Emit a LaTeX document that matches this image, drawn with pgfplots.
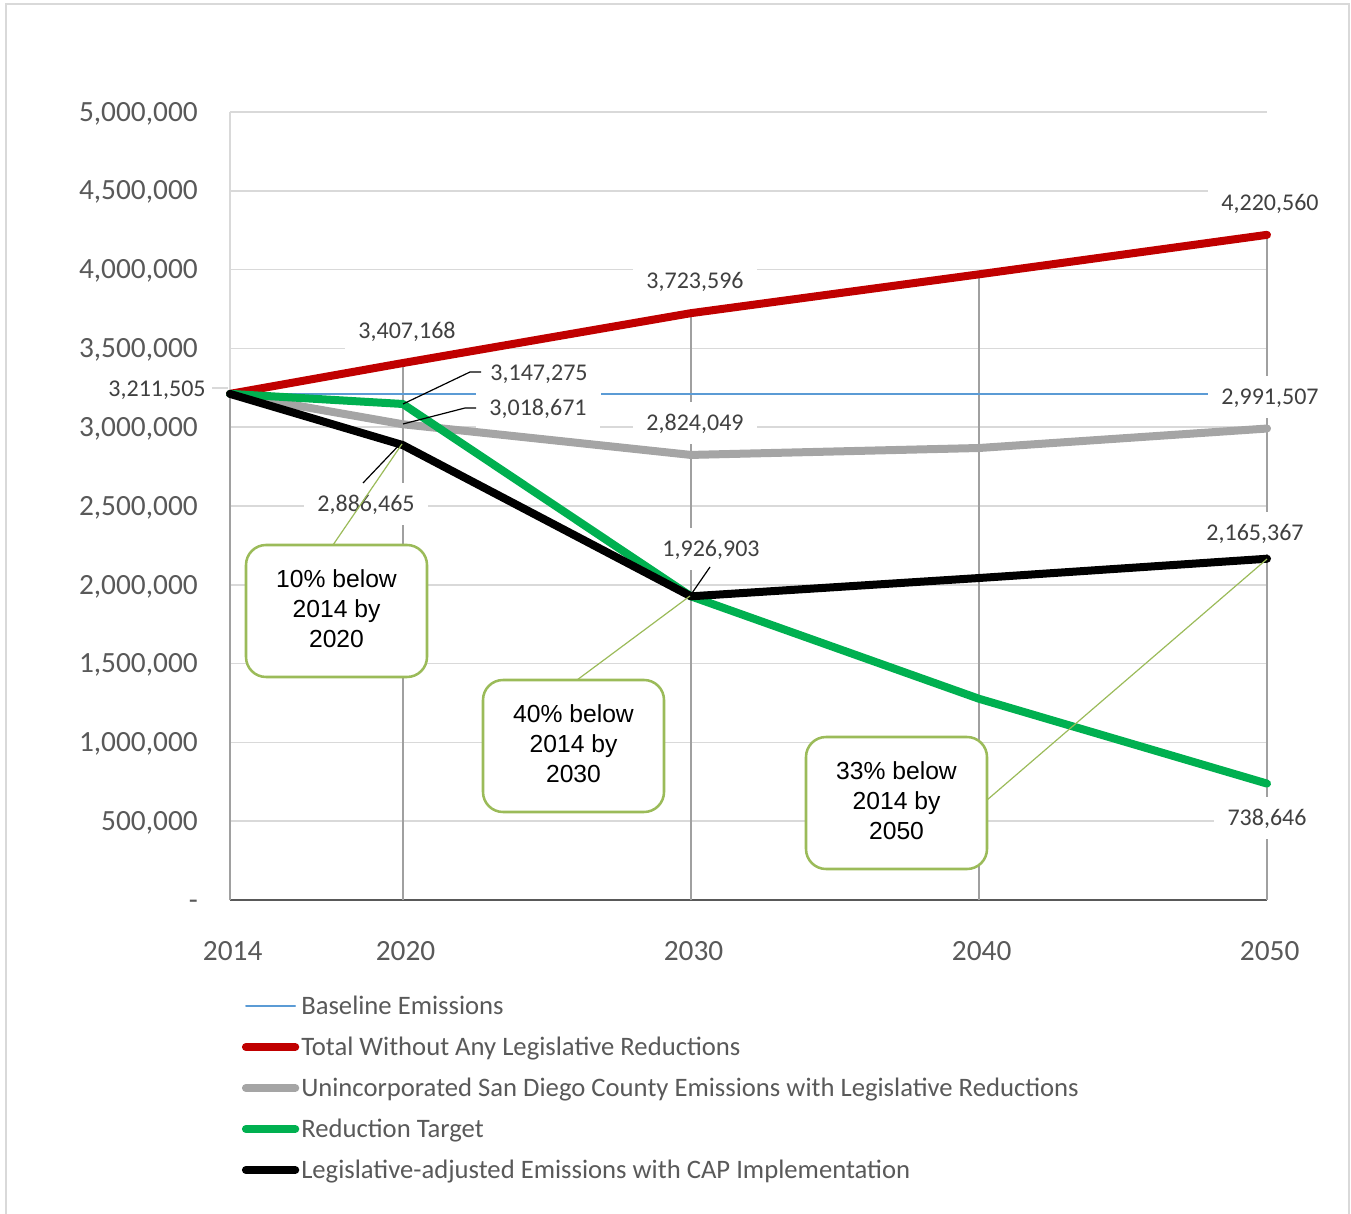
\documentclass[border=0pt]{standalone}
\usepackage{pgfplots}
\pgfplotsset{compat=1.18}
\usepackage{fontspec}
\setmainfont{Carlito}
\newfontfamily\arialfont{Liberation Sans}
\definecolor{cRed}{HTML}{C00000}
\definecolor{cGray}{HTML}{A5A5A5}
\definecolor{cGreen}{HTML}{00B050}
\definecolor{cBlue}{HTML}{5B9BD5}
\definecolor{cBox}{HTML}{9BBB59}
\definecolor{cGrid}{HTML}{D9D9D9}
\definecolor{cDrop}{HTML}{A0A0A0}
\definecolor{cTick}{HTML}{595959}
\definecolor{cLab}{HTML}{404040}
\tikzset{
  dl/.style={fill=white, inner xsep=10pt, inner ysep=10pt, text height=11.5pt, text depth=0pt,
    font=\fontsize{18}{20}\selectfont, text=cLab},
  bx/.style={draw=cBox, line width=1.9pt, rounded corners=15pt, fill=white,
    minimum width=135.75pt, minimum height=99pt, inner sep=0pt},
  bt/.style={align=center, inner sep=0pt, font=\arialfont\fontsize{18.5}{22.5}\selectfont, text=black},
  co/.style={cBox, line width=0.9pt},
  ld/.style={black, line width=0.9pt}
}
\begin{document}
\begin{tikzpicture}
\path[use as bounding box] (-172.5pt,-234.75pt) rectangle (840.75pt,675pt);
\begin{axis}[
  scale only axis, width=777.75pt, height=591pt,
  clip=false,
  xmin=2014, xmax=2050, ymin=0, ymax=5000000,
  xtick={2014,2020,2030,2040,2050},
  xticklabels={2014,2020,2030,2040,2050},
  ytick={0,500000,1000000,1500000,2000000,2500000,3000000,3500000,4000000,4500000,5000000},
  yticklabels={{-\hspace{21.5pt}},{500,000},{1,000,000},{1,500,000},{2,000,000},{2,500,000},{3,000,000},{3,500,000},{4,000,000},{4,500,000},{5,000,000}},
  scaled y ticks=false,
  /pgf/number format/assume math mode=true,
  major tick length=0pt,
  axis x line*=bottom, axis y line*=left,
  x axis line style={cTick, line width=2.2pt},
  y axis line style={cGrid, line width=1.2pt},
  ymajorgrids, grid style={cGrid, line width=1.1pt},
  ticklabel style={font=\fontsize{22}{24}\selectfont, text=cTick, inner sep=0pt, text height=13.8pt, text depth=0pt},
  yticklabel style={anchor=east, xshift=-24pt},
  xticklabel style={anchor=north, yshift=-31.5pt, xshift=2pt},
  legend style={at={(axis description cs:0.0115,-0.1236)}, anchor=north west, draw=none, fill=none,
    inner sep=0pt, outer sep=0pt, font=\fontsize{20}{22}\selectfont, text=cTick,
    row sep=17.85pt, column sep=1.5pt,
    nodes={inner sep=0pt, text height=12.9pt, text depth=0pt}},
  legend cell align=left,
  legend image code/.code={\draw[#1, line cap=round] (0pt,0pt) -- (37pt,0pt);},
]
\addplot[ycomb, cDrop, line width=1.1pt, forget plot] coordinates {(2014,3211505)(2020,3407168)(2030,3723596)(2040,3970000)(2050,4220560)};
\addplot[cBlue, line width=1.1pt] coordinates {(2014,3211505)(2020,3211505)(2030,3211505)(2040,3211505)(2050,3211505)};
\addlegendentry{Baseline Emissions}
\node[dl] at (axis description cs:-0.07040,0.64848) {3,211,505};
\node[dl] at (axis description cs:0.17068,0.72208) {3,407,168};
\node[dl] at (axis description cs:0.44841,0.78553) {3,723,596};
\node[dl] at (axis description cs:1.00289,0.88452) {4,220,560};
\node[dl, inner ysep=11pt] at (axis description cs:0.29797,0.66878) {3,147,275};
\node[dl] at (axis description cs:0.29701,0.62437) {3,018,671};
\node[dl] at (axis description cs:0.44841,0.60533) {2,824,049};
\node[dl] at (axis description cs:1.00289,0.63832) {2,991,507};
\node[dl] at (axis description cs:0.13115,0.50254) {2,886,465};
\node[dl] at (axis description cs:0.46384,0.44543) {1,926,903};
\node[dl] at (axis description cs:0.98843,0.46574) {2,165,367};
\node[dl] at (axis description cs:1.0,0.10406) {738,646};
\addplot[cRed, line width=6pt, line cap=round, line join=round] coordinates {(2014,3211505)(2020,3407168)(2030,3723596)(2040,3970000)(2050,4220560)};
\addlegendentry{Total Without Any Legislative Reductions}
\addplot[cGray, line width=6pt, line cap=round, line join=round] coordinates {(2014,3211505)(2020,3018671)(2030,2824049)(2040,2868000)(2050,2991507)};
\addlegendentry{Unincorporated San Diego County Emissions with Legislative Reductions}
\addplot[cGreen, line width=6pt, line cap=round, line join=round] coordinates {(2014,3211505)(2020,3147275)(2030,1926903)(2040,1277000)(2050,738646)};
\addlegendentry{Reduction Target}
\addplot[black, line width=6pt, line cap=round, line join=round] coordinates {(2014,3211505)(2020,2886465)(2030,1926903)(2040,2043000)(2050,2165367)};
\addlegendentry{Legislative-adjusted Emissions with CAP Implementation}
\end{axis}
\begin{scope}[x=0.75pt, y=-0.75pt, shift={(-172.5pt,675pt)}]
\draw[cGrid, line width=1.1pt] (6,4) rectangle (1349,1240);
\draw[cGrid, line width=1.1pt] (212,388) -- (228,388);
\draw[ld] (403,404) -- (470,372) -- (481,372);
\draw[ld] (403,424) -- (465,408) -- (476,408);
\draw[ld] (402,442) -- (363,483);
\draw[ld] (690,596) -- (710,567);
\draw[co] (333,545) -- (402,444);
\draw[co] (577,680) -- (690,596);
\draw[co] (987,800) -- (1267,559);
\node[bx] at (336.5,611) {};
\node[bt] at (336.5,609) {10\% below\\2014 by\\2020};
\node[bx] at (573.5,746) {};
\node[bt] at (573.5,744) {40\% below\\2014 by\\2030};
\node[bx] at (896.5,803) {};
\node[bt] at (896.5,801) {33\% below\\2014 by\\2050};
\end{scope}
\end{tikzpicture}
\end{document}
